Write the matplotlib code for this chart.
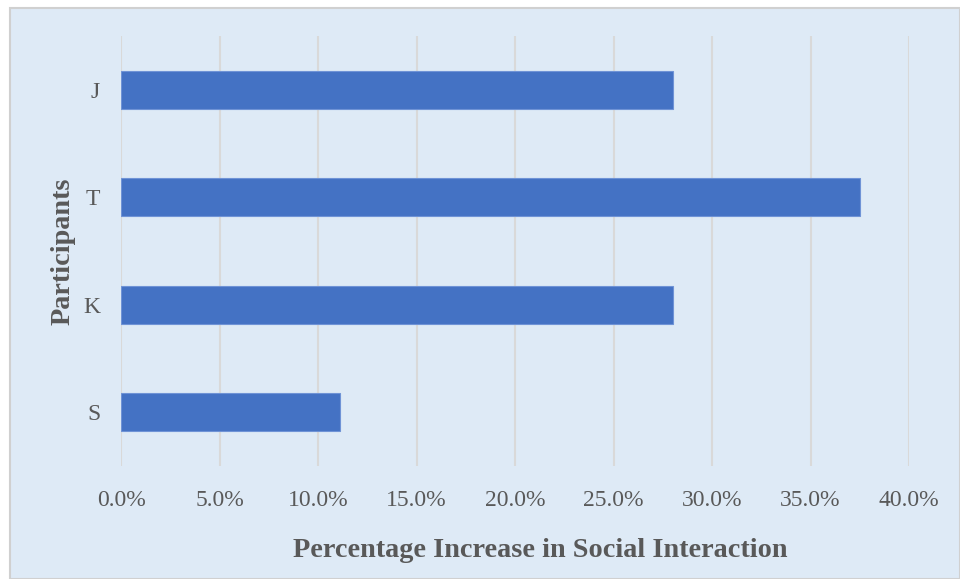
import matplotlib.pyplot as plt
from matplotlib.patches import Rectangle
from matplotlib.ticker import FuncFormatter

# Data
participants = ['S', 'K', 'T', 'J']
increase = [11.1, 28.0, 37.5, 28.0]

# Colours
bg = '#deeaf6'
bar_color = '#4472c4'
text_color = '#595959'
grid_color = '#d9d9d9'

plt.rcParams['font.family'] = ['Liberation Serif', 'DejaVu Serif']

fig = plt.figure(figsize=(9.6, 5.79), dpi=100)
fig.patch.set_facecolor('white')
# chart area with grey border
fig.patches.append(Rectangle((10/960, 0), 1 - 10/960, 1 - 8/579, transform=fig.transFigure,
                             facecolor=bg, edgecolor='#d0d0d0', linewidth=1.5, zorder=-1))

ax = fig.add_axes([121/960, 1 - 466/579, 788/960, 430/579])
ax.set_zorder(1)
ax.patch.set_alpha(0)

ax.barh(range(len(participants)), increase, height=0.35, color=bar_color,
        edgecolor='#6f93d6', linewidth=0.8, zorder=3)

ax.set_xlim(0, 40)
ax.set_ylim(-0.5, len(participants) - 0.5)
ax.set_xticks([0, 5, 10, 15, 20, 25, 30, 35, 40])
ax.xaxis.set_major_formatter(FuncFormatter(lambda v, p: '%.1f%%' % v))
ax.set_yticks(range(len(participants)))
ax.set_yticklabels(participants)

ax.grid(axis='x', color=grid_color, linewidth=1.5, zorder=0)
ax.set_axisbelow(True)
for s in ax.spines.values():
    s.set_visible(False)
ax.tick_params(axis='both', length=0, labelsize=17, labelcolor=text_color)
ax.tick_params(axis='x', pad=17)
ax.tick_params(axis='y', pad=15)

ax.set_xlabel('Percentage Increase in Social Interaction', fontsize=20.3, fontweight='bold',
              color=text_color)
ax.xaxis.set_label_coords(0.532, -0.168)
ax.set_ylabel('Participants', fontsize=20.3, fontweight='bold', color=text_color)
ax.yaxis.set_label_coords(-0.058, 0.5)

fig.savefig('out.png', dpi=100)
